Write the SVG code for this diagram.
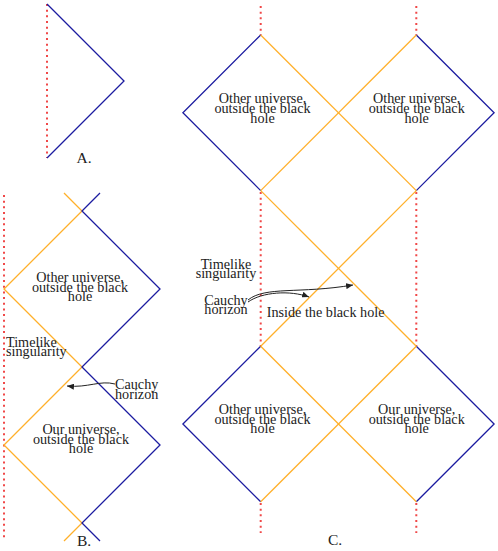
<svg xmlns="http://www.w3.org/2000/svg" width="498" height="551" viewBox="0 0 498 551">
<style>
text{font-family:"Liberation Serif","Times New Roman",serif;font-size:14.2px;fill:#222}
.c{text-anchor:middle}
.lbl{font-size:15.5px;text-anchor:middle}
.sing{stroke:#f04848;stroke-width:2;stroke-dasharray:2 3.67;fill:none}
.bl{stroke:#1c1ca0;stroke-width:1.3;fill:none}
.or{stroke:#ffb02a;stroke-width:1.3;fill:none}
.arr{stroke:#222;stroke-width:1;fill:none;marker-end:url(#ah)}
</style>
<defs>
<marker id="ah" markerUnits="userSpaceOnUse" markerWidth="8" markerHeight="6" refX="7" refY="3" orient="auto">
<path d="M0,0 L7,3 L0,6 Z" fill="#222"/>
</marker>
</defs>
<rect width="498" height="551" fill="#fff"/>
<g id="connectors">
<line class="sing" x1="47" y1="4" x2="47" y2="158"/>
<polyline class="bl" points="47,4 124,81 47,158"/>
<line class="sing" x1="4" y1="195" x2="4" y2="540"/>
<polyline class="or" points="64,193 82,211 4,289 82,367 4,445 82,523 64,541"/>
<polyline class="bl" points="100,193 82,211 160,289 82,367 160,445 82,523 100,541"/>
<path class="arr" d="M115,384 C100,380 88,388 67,386"/>
<line class="sing" x1="260.7" y1="6" x2="260.7" y2="35"/>
<line class="sing" x1="416.3" y1="6" x2="416.3" y2="35"/>
<line class="sing" x1="260.7" y1="192" x2="260.7" y2="346.2"/>
<line class="sing" x1="416.3" y1="192" x2="416.3" y2="346.2"/>
<line class="sing" x1="260.7" y1="503" x2="260.7" y2="533"/>
<line class="sing" x1="416.3" y1="503" x2="416.3" y2="533"/>
<polyline class="bl" points="260.7,35 182.9,112.8 260.7,190.6"/>
<polyline class="bl" points="416.3,35 494.1,112.8 416.3,190.6"/>
<polyline class="bl" points="260.7,346.2 182.9,424 260.7,501.8"/>
<polyline class="bl" points="416.3,346.2 494.1,424 416.3,501.8"/>
<line class="or" x1="260.7" y1="35" x2="416.3" y2="190.6"/>
<line class="or" x1="416.3" y1="35" x2="260.7" y2="190.6"/>
<line class="or" x1="260.7" y1="190.6" x2="416.3" y2="346.2"/>
<line class="or" x1="416.3" y1="190.6" x2="260.7" y2="346.2"/>
<line class="or" x1="260.7" y1="346.2" x2="416.3" y2="501.8"/>
<line class="or" x1="416.3" y1="346.2" x2="260.7" y2="501.8"/>
<path class="arr" d="M248,300 C265,286 300,294 353,285"/>
<path class="arr" d="M248,302 C262,292 290,290 309,297"/>
</g>
<g id="labelA"><text class="lbl" x="84" y="163">A.</text></g>
<g id="labelB"><text class="lbl" x="84" y="546">B.</text></g>
<g id="labelC"><text class="lbl" x="335" y="545">C.</text></g>
<g id="B-other"><text class="c" x="80" y="282">Other universe,</text><text class="c" x="80" y="291.5">outside the black</text><text class="c" x="80" y="301">hole</text></g>
<g id="B-timelike"><text x="6" y="347">Timelike</text><text x="6" y="356">singularity</text></g>
<g id="B-cauchy"><text x="115" y="389">Cauchy</text><text x="115" y="399">horizon</text></g>
<g id="B-our"><text class="c" x="81" y="434">Our universe,</text><text class="c" x="81" y="443.5">outside the black</text><text class="c" x="81" y="453">hole</text></g>
<g id="C-other1"><text class="c" x="262.5" y="103.3">Other universe,</text><text class="c" x="262.5" y="113">outside the black</text><text class="c" x="262.5" y="122.7">hole</text></g>
<g id="C-other2"><text class="c" x="416.7" y="103.3">Other universe,</text><text class="c" x="416.7" y="113">outside the black</text><text class="c" x="416.7" y="122.7">hole</text></g>
<g id="C-timelike"><text class="c" x="226" y="269">Timelike</text><text class="c" x="226" y="278">singularity</text></g>
<g id="C-cauchy"><text class="c" x="226" y="305">Cauchy</text><text class="c" x="226" y="314">horizon</text></g>
<g id="C-inside"><text x="266.7" y="317">Inside the black hole</text></g>
<g id="C-other3"><text class="c" x="262.5" y="414">Other universe,</text><text class="c" x="262.5" y="423.7">outside the black</text><text class="c" x="262.5" y="433.3">hole</text></g>
<g id="C-our"><text class="c" x="416.7" y="414">Our universe,</text><text class="c" x="416.7" y="423.7">outside the black</text><text class="c" x="416.7" y="433.3">hole</text></g>
</svg>
